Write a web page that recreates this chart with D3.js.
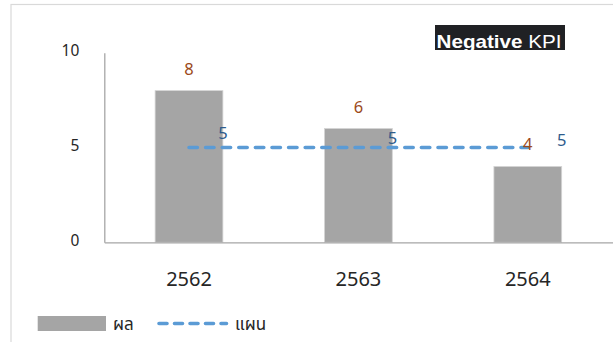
<!DOCTYPE html>
<html>
<head>
<meta charset="utf-8">
<script src="https://cdn.jsdelivr.net/npm/d3@7"></script>
<style>
  html, body { margin: 0; padding: 0; background: #fff; }
  svg { display: block; }
</style>
</head>
<body>
<svg id="chart" width="613" height="342"></svg>
<script>
// Chart data
const years = ["2562", "2563", "2564"];
const actual = [8, 6, 4];      // ผล
const plan = [5, 5, 5];        // แผน
const yTicks = [0, 5, 10];
const legendLabels = ["ผล", "แผน"];
const titleBold = "Negative";
const titleRest = " KPI";

const W = 613, H = 342;
const svg = d3.select("#chart");
const font = "'Noto Sans', 'Noto Sans Thai', 'DejaVu Sans', sans-serif";

// outer chart frame
svg.append("rect")
  .attr("x", 11).attr("y", 4.5)
  .attr("width", W).attr("height", H)
  .attr("fill", "none").attr("stroke", "#d9d9d9").attr("stroke-width", 1.2);

const plot = { left: 104.3, right: 612.5, top: 52.7, bottom: 242.3 };

const x = d3.scaleBand()
  .domain(years)
  .range([plot.left, plot.right])
  .paddingInner(0.6)
  .paddingOuter(0.3);

const y = d3.scaleLinear()
  .domain([0, 10])
  .range([plot.bottom, plot.top]);

// bars
svg.append("g").selectAll("rect")
  .data(actual)
  .join("rect")
  .attr("x", (d, i) => x(years[i]))
  .attr("y", d => y(d))
  .attr("width", x.bandwidth())
  .attr("height", d => y(0) - y(d))
  .attr("fill", "#a5a5a5")
  .attr("stroke", "#d4d4d4")
  .attr("stroke-width", 0.8);

// y axis
const yAxis = svg.append("g")
  .attr("transform", `translate(${plot.left},0)`)
  .call(d3.axisLeft(y).tickValues(yTicks).tickSize(0).tickPadding(25));
yAxis.select(".domain").attr("stroke", "#a6a6a6").attr("stroke-width", 1.3);
yAxis.selectAll("text")
  .attr("font-family", font).attr("font-size", 15.5)
  .attr("fill", "#262626").attr("dy", "0.2em");

// x axis
const xAxis = svg.append("g")
  .attr("transform", `translate(0,${plot.bottom})`)
  .call(d3.axisBottom(x).tickSize(0).tickPadding(0));
xAxis.select(".domain").attr("stroke", "#a6a6a6").attr("stroke-width", 1.3);
xAxis.selectAll("text")
  .attr("font-family", font).attr("font-size", 20)
  .attr("fill", "#262626").attr("y", 44).attr("dy", 0);

// plan line
const cx = (d, i) => x(years[i]) + x.bandwidth() / 2;
const line = d3.line().x(cx).y(d => y(d));
svg.append("path")
  .datum(plan)
  .attr("d", line)
  .attr("fill", "none")
  .attr("stroke", "#5b9bd5")
  .attr("stroke-width", 3.6)
  .attr("stroke-linecap", "round")
  .attr("stroke-dasharray", "8.4,8.2");

// bar value labels
svg.append("g").selectAll("text")
  .data(actual)
  .join("text")
  .attr("x", cx)
  .attr("y", d => y(d) - 16)
  .attr("text-anchor", "middle")
  .attr("font-family", font).attr("font-size", 16.5)
  .attr("fill", "#9c4a1a")
  .text(d => d);

// plan value labels, placed to the right of each point
const planLabelRise = [9, 3.5, 2];
svg.append("g").selectAll("text")
  .data(plan)
  .join("text")
  .attr("x", (d, i) => cx(d, i) + 34)
  .attr("y", (d, i) => y(d) - planLabelRise[i])
  .attr("text-anchor", "middle")
  .attr("font-family", font).attr("font-size", 16.5)
  .attr("fill", "#2e5c8c")
  .text(d => d);

// title box
const title = svg.append("g").attr("transform", "translate(435,25)");
title.append("rect")
  .attr("width", 130).attr("height", 25)
  .attr("fill", "#202124");
const tt = title.append("text")
  .attr("x", 1.5).attr("y", 23)
  .attr("font-family", "'Liberation Sans', Arial, sans-serif")
  .attr("font-size", 19)
  .attr("fill", "#ffffff")
  .attr("textLength", 125)
  .attr("lengthAdjust", "spacingAndGlyphs");
tt.append("tspan").attr("font-weight", "bold").text(titleBold);
tt.append("tspan").text(titleRest);

// legend
const legend = svg.append("g");
legend.append("rect")
  .attr("x", 37.7).attr("y", 316)
  .attr("width", 68.3).attr("height", 15)
  .attr("fill", "#a5a5a5");
legend.append("text")
  .attr("x", 113).attr("y", 330)
  .attr("font-family", font).attr("font-size", 17)
  .attr("fill", "#262626")
  .text(legendLabels[0]);
legend.append("line")
  .attr("x1", 159).attr("x2", 226.5)
  .attr("y1", 323.5).attr("y2", 323.5)
  .attr("stroke", "#5b9bd5")
  .attr("stroke-width", 3.6)
  .attr("stroke-linecap", "round")
  .attr("stroke-dasharray", "8,7.5");
legend.append("text")
  .attr("x", 235).attr("y", 330)
  .attr("font-family", font).attr("font-size", 17)
  .attr("fill", "#262626")
  .text(legendLabels[1]);
</script>
</body>
</html>
